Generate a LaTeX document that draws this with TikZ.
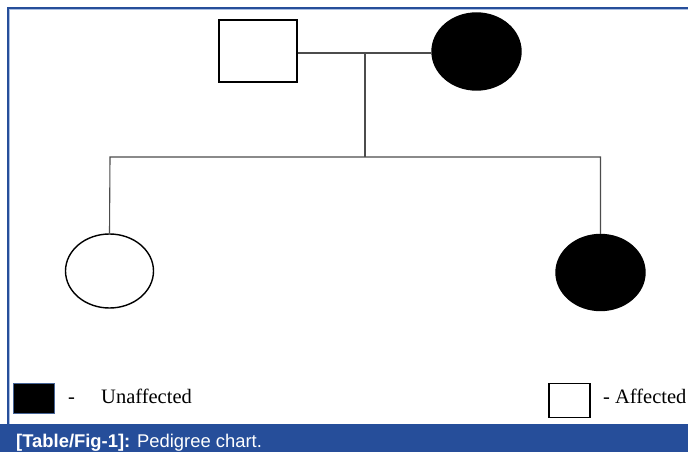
\documentclass[tikz,border=0pt]{standalone}
\usepackage{fontspec}
\usetikzlibrary{shapes.geometric}
\setmainfont{Liberation Serif}
\setsansfont{Liberation Sans}
\definecolor{capblue}{RGB}{38,78,154}
\definecolor{framelight}{RGB}{170,190,225}
\definecolor{keyedge}{RGB}{70,100,150}
\begin{document}
\begin{tikzpicture}[x=1pt,y=-1pt,
  person/.style={draw=black,line width=1.4pt,inner sep=0pt},
  male/.style={person,rectangle,minimum width=78pt,minimum height=62pt},
  female/.style={person,ellipse,minimum width=89pt,minimum height=76pt},
  filled/.style={fill=black},
  link/.style={draw=black!70,line width=1.1pt},
  legendtext/.style={font=\fontsize{20.5pt}{24pt}\selectfont,inner sep=0pt,anchor=base west}]
\useasboundingbox (0,0) rectangle (688,452);
\fill[white] (0,0) rectangle (688,452);
% frame
\draw[framelight,line width=1pt] (9.5,452) -- (9.5,9.5) -- (688,9.5);
\draw[capblue,line width=1.6pt] (7.8,452) -- (7.8,7.8) -- (688,7.8);
% caption bar
\fill[capblue] (0,424) rectangle (688,452);
\node[anchor=base west,inner sep=0pt,text=white,font=\sffamily\fontsize{18.4pt}{21pt}\selectfont] (cap) at (16,447.5)
  {\textbf{[Table/Fig-1]:} Pedigree chart.};
% parents
\node[male] (father) at (258,51) {};
\node[female,filled,minimum width=89pt,minimum height=77pt] (mother) at (476.5,51.5) {};
\coordinate (mid) at (365,53);
\coordinate (sib) at (365,157);
\coordinate (sibL) at (110,157);
\coordinate (sibR) at (600.5,157);
% children
\node[female,minimum width=88pt,minimum height=74pt] (child1) at (109.5,271) {};
\node[female,filled] (child2) at (600.5,272.5) {};
% connectors
\draw[link] (father.east |- mid) -- (mother.west |- mid);
\draw[link] (mid) -- (sib);
\draw[link] (child1.north) -- (sibL) -- (sibR) -- (child2.north);
% legend
\node[draw=keyedge,line width=0.8pt,fill=black,minimum width=41pt,minimum height=30pt,inner sep=0pt] (keyA) at (33.5,398) {};
\node[legendtext] (dashA) at (68,403) {-};
\node[legendtext] (labA) at (101,403) {Unaffected};
\node[draw=black,line width=1.2pt,minimum width=41pt,minimum height=34pt,inner sep=0pt] (keyU) at (569.5,400.5) {};
\node[legendtext] (labU) at (603,403) {- Affected};
\end{tikzpicture}
\end{document}
